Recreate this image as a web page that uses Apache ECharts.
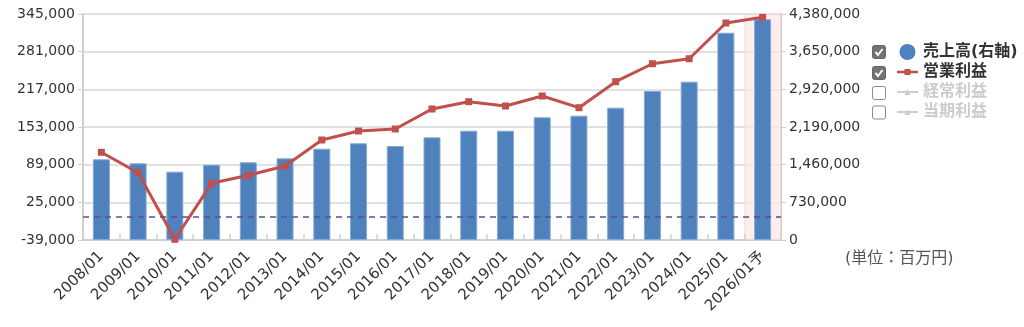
<!DOCTYPE html>
<html>
<head>
<meta charset="utf-8">
<script src="https://cdn.jsdelivr.net/npm/echarts@6/dist/echarts.min.js"></script>
<style>
  html, body { margin: 0; padding: 0; background: #fff; }
  #chart { width: 1024px; height: 327px; }
</style>
</head>
<body>
<div id="chart"></div>
<script>
// Fiscal periods (the last one is a forecast)
const categories = ['2008/01', '2009/01', '2010/01', '2011/01', '2012/01', '2013/01', '2014/01',
  '2015/01', '2016/01', '2017/01', '2018/01', '2019/01', '2020/01', '2021/01', '2022/01',
  '2023/01', '2024/01', '2025/01', '2026/01予'];

// 売上高 (millions of yen, right axis)
const sales = [1564000, 1486000, 1324000, 1459000, 1506000, 1583000, 1769000, 1874000, 1822000,
  1990000, 2118000, 2118000, 2378000, 2409000, 2564000, 2888000, 3068000, 4017000, 4277000];

// 営業利益 (millions of yen, left axis)
const operatingProfit = [110000, 75300, -37800, 57300, 70900, 86700, 130900, 146200, 149600,
  183600, 196000, 188700, 205700, 185800, 230000, 260500, 269000, 329700, 339300];

// Axis ranges
const leftAxis = { min: -39000, max: 345000, interval: 64000 };
const rightAxis = { min: 0, max: 4380000, interval: 730000 };

// Forecast period highlighted with a band
const forecastBand = categories.map((c, i) => i === categories.length - 1 ? rightAxis.max : null);

const FONT = "'DejaVu Sans', 'Noto Sans CJK JP', sans-serif";
const GRID_COLOR = '#d6d6d6';
const AXIS_COLOR = '#cfcfcf';

// Legend glyphs: a line with a small marker in its middle
const ICON_LINE_SQUARE = 'path://M0,2.2 H21 V4.8 H0 Z M7.5,0.5 H13.5 V6.5 H7.5 Z';
const ICON_LINE_TRIANGLE = 'path://M0,2.6 H21 V4.4 H0 Z M10.5,0.5 L13.5,6.5 L7.5,6.5 Z';

const chart = echarts.init(document.getElementById('chart'), null, { renderer: 'canvas' });

// Checkbox glyphs beside the legend rows
function checkbox(y, checked) {
  const children = [{
    type: 'rect',
    shape: { x: 0, y: 0, width: 13, height: 13, r: 2 },
    style: checked ? { fill: '#737373', stroke: '#666', lineWidth: 1 }
                   : { fill: '#fff', stroke: '#8a8a8a', lineWidth: 1 }
  }];
  if (checked) {
    children.push({
      type: 'polyline',
      shape: { points: [[3, 6.5], [5.5, 9.5], [10, 3.5]] },
      style: { stroke: '#fff', lineWidth: 2, fill: null }
    });
  }
  return { type: 'group', left: 872, top: y, children };
}

chart.setOption({
  animation: false,
  textStyle: { fontFamily: FONT },
  grid: { left: 83, right: 243, top: 14, bottom: 87, containLabel: false },
  legend: {
    orient: 'vertical',
    left: 892,
    top: 39,
    itemWidth: 21,
    itemHeight: 16,
    itemGap: 4,
    selectedMode: false,
    inactiveColor: '#cccccc',
    textStyle: { fontFamily: FONT, fontSize: 16, fontWeight: 'bold', color: '#333' },
    data: [
      { name: '売上高(右軸)', icon: 'circle', itemStyle: { borderWidth: 0 } },
      { name: '営業利益', icon: ICON_LINE_SQUARE },
      { name: '経常利益', icon: ICON_LINE_TRIANGLE },
      { name: '当期利益', icon: ICON_LINE_TRIANGLE }
    ],
    selected: { '経常利益': false, '当期利益': false }
  },
  graphic: [
    checkbox(45, true),
    checkbox(66, true),
    checkbox(86, false),
    checkbox(105.5, false),
    {
      type: 'text', left: 845, top: 251,
      style: { text: '(単位：百万円)', fill: '#555', font: "16px " + FONT }
    }
  ],
  xAxis: [{
    type: 'category',
    data: categories,
    boundaryGap: true,
    axisLine: { onZero: false, lineStyle: { color: AXIS_COLOR, width: 2 } },
    axisTick: { show: true, inside: true, length: 6, lineStyle: { color: AXIS_COLOR, width: 1.5 } },
    axisLabel: { interval: 0, rotate: 45, fontSize: 15, color: '#333', margin: 14, fontFamily: FONT },
    splitLine: { show: false }
  }, {
    type: 'category',
    data: categories,
    show: false,
    axisLine: { onZero: false }
  }],
  yAxis: [{
    type: 'value',
    min: leftAxis.min, max: leftAxis.max, interval: leftAxis.interval,
    axisLine: { show: true, lineStyle: { color: AXIS_COLOR, width: 2 } },
    axisTick: { show: true, length: 5, lineStyle: { color: AXIS_COLOR } },
    axisLabel: { fontSize: 14, color: '#333', margin: 8, fontFamily: FONT },
    splitLine: { show: true, lineStyle: { color: GRID_COLOR, width: 1.5 } }
  }, {
    type: 'value',
    position: 'right',
    min: rightAxis.min, max: rightAxis.max, interval: rightAxis.interval,
    axisLine: { show: true, lineStyle: { color: AXIS_COLOR, width: 2 } },
    axisTick: { show: true, length: 5, lineStyle: { color: AXIS_COLOR } },
    axisLabel: { fontSize: 14, color: '#333', margin: 8, fontFamily: FONT },
    splitLine: { show: false }
  }],
  series: [
    {
      name: 'forecast',
      type: 'bar',
      xAxisIndex: 1,
      yAxisIndex: 1,
      data: forecastBand,
      barWidth: '100%',
      silent: true,
      z: 0,
      itemStyle: { color: 'rgba(252, 230, 230, 0.7)', borderColor: 'rgba(248, 214, 214, 0.8)', borderWidth: 1 }
    },
    {
      name: '売上高(右軸)',
      type: 'bar',
      yAxisIndex: 1,
      data: sales,
      barWidth: 17,
      z: 2,
      itemStyle: { color: '#4f81bd', borderColor: '#86a9d6', borderWidth: 1 }
    },
    {
      name: '営業利益',
      type: 'line',
      yAxisIndex: 0,
      data: operatingProfit,
      symbol: 'rect',
      symbolSize: 7,
      z: 4,
      lineStyle: { color: '#c0504d', width: 3 },
      itemStyle: { color: '#c0504d' },
      markLine: {
        silent: true,
        symbol: 'none',
        label: { show: false },
        lineStyle: { color: '#5a4f8e', type: [6, 5], width: 1.5 },
        data: [{ yAxis: 0 }]
      }
    },
    {
      name: '経常利益',
      type: 'line',
      yAxisIndex: 0,
      data: [],
      symbol: 'triangle',
      lineStyle: { color: '#9bbb59' },
      itemStyle: { color: '#9bbb59' }
    },
    {
      name: '当期利益',
      type: 'line',
      yAxisIndex: 0,
      data: [],
      symbol: 'triangle',
      lineStyle: { color: '#8064a2' },
      itemStyle: { color: '#8064a2' }
    }
  ]
});
</script>
</body>
</html>
